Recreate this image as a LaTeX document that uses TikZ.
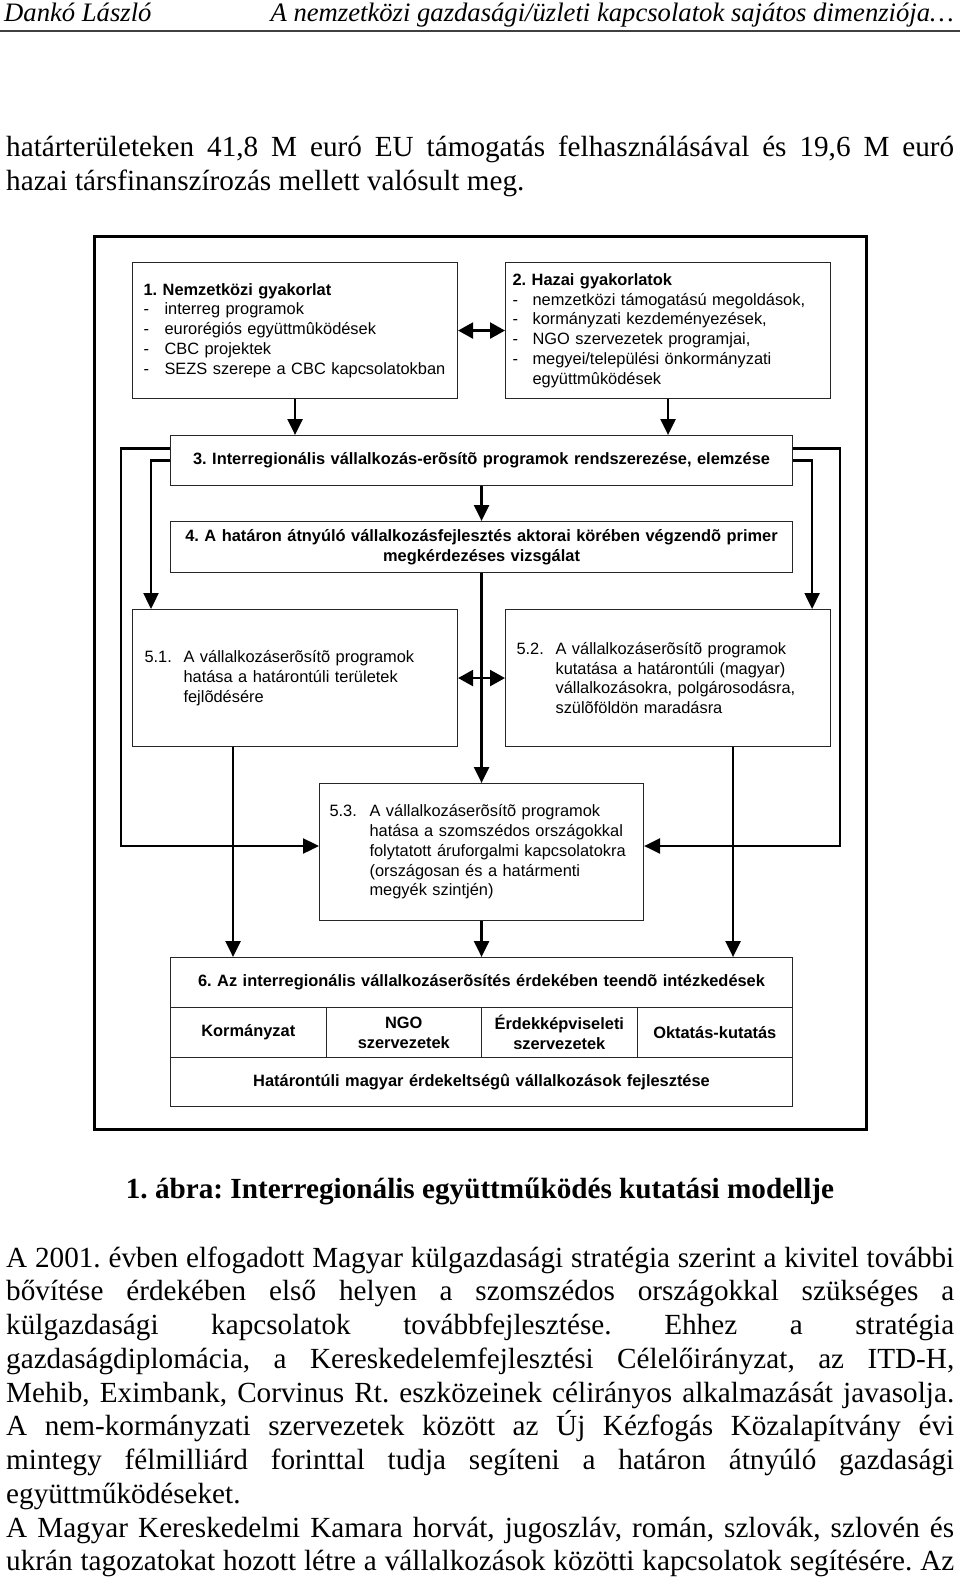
\documentclass[tikz,border=0pt]{standalone}
\usepackage{fontspec}
\setmainfont{Liberation Serif}
\newfontfamily\arial{Liberation Sans}
\usetikzlibrary{arrows.meta}
\frenchspacing
\begin{document}
\begin{tikzpicture}[x=1pt,y=-1pt,
  box/.style={draw=black!85, line width=1.1pt, rectangle, anchor=north west, inner ysep=0pt,
    font=\arial\fontsize{16.4}{19.8}\selectfont},
  bbox/.style={box, font=\arial\bfseries\fontsize{16.4}{19.8}\selectfont, align=center, inner xsep=0pt},
  conn/.style={line width=2.4pt, -{Triangle[length=16pt,width=15pt]}},
  dbl/.style={line width=2.4pt, {Triangle[length=15pt,width=16pt]}-{Triangle[length=15pt,width=16pt]}},
  body/.style={anchor=base west, inner sep=0pt, font=\frenchspacing\fontsize{29.2}{33.8}\selectfont},
  hdr/.style={inner sep=0pt, font=\itshape\fontsize{26.65}{30}\selectfont},
]
\useasboundingbox (0,0) rectangle (960,1578);

% header
\node[hdr, anchor=base west] (h1) at (4,22) {Dankó László};
\node[hdr, anchor=base east] (h2) at (954,22) {A nemzetközi gazdasági/üzleti kapcsolatok sajátos dimenziója…};
\draw[line width=2pt, black!75] (0,31.5) -- (960,31.5);

% top paragraph
\node[body] (p1) at (6,156.7) {\makebox[948pt][s]{határterületeken 41,8 M euró EU támogatás felhasználásával és 19,6 M euró}};
\node[body] (p2) at (6,190.5) {hazai társfinanszírozás mellett valósult meg.};

% frame
\draw[line width=3pt] (94,237) rectangle (866,1129);

% boxes
\node[box, minimum width=325pt, minimum height=136pt, text width=303pt, inner xsep=11pt, align=left] (b1) at (132,262)
 {{\bfseries 1. Nemzetközi gyakorlat}\\
  \makebox[21pt][l]{-}interreg programok\\
  \makebox[21pt][l]{-}eurorégiós együttmûködések\\
  \makebox[21pt][l]{-}CBC projektek\\
  \makebox[21pt][l]{-}SEZS szerepe a CBC kapcsolatokban};
\node[box, minimum width=325pt, minimum height=136pt, text width=311pt, inner xsep=7pt, align=left] (b2) at (505,262)
 {{\bfseries 2. Hazai gyakorlatok}\\
  \makebox[20pt][l]{-}nemzetközi támogatású megoldások,\\
  \makebox[20pt][l]{-}kormányzati kezdeményezések,\\
  \makebox[20pt][l]{-}NGO szervezetek programjai,\\
  \makebox[20pt][l]{-}megyei/települési önkormányzati\\
  \hspace*{20pt}együttmûködések};
\node[bbox, minimum width=622pt, minimum height=50pt, text width=622pt] (b3) at (170,435)
 {3. Interregionális vállalkozás-erõsítõ programok rendszerezése, elemzése};
\node[bbox, minimum width=622pt, minimum height=51pt, text width=622pt] (b4) at (170,521)
 {4. A határon átnyúló vállalkozásfejlesztés aktorai körében végzendõ primer\\megkérdezéses vizsgálat};
\node[box, minimum width=325pt, minimum height=137pt, text width=301pt, inner xsep=12pt, align=left] (b51) at (132,609)
 {\makebox[39pt][l]{5.1.}A vállalkozáserõsítõ programok\\
  \hspace*{39pt}hatása a határontúli területek\\
  \hspace*{39pt}fejlõdésére};
\node[box, minimum width=325pt, minimum height=137pt, text width=303pt, inner xsep=11pt, align=left] (b52) at (505,609)
 {\makebox[39pt][l]{5.2.}A vállalkozáserõsítõ programok\\
  \hspace*{39pt}kutatása a határontúli (magyar)\\
  \hspace*{39pt}vállalkozásokra, polgárosodásra,\\
  \hspace*{39pt}szülõföldön maradásra};
\node[box, minimum width=324pt, minimum height=137pt, text width=304pt, inner xsep=10pt, align=left] (b53) at (319,783)
 {\makebox[40pt][l]{5.3.}A vállalkozáserõsítõ programok\\
  \hspace*{40pt}hatása a szomszédos országokkal\\
  \hspace*{40pt}folytatott áruforgalmi kapcsolatokra\\
  \hspace*{40pt}(országosan és a határmenti\\
  \hspace*{40pt}megyék szintjén)};

% box 6 (table)
\node[bbox, minimum width=622pt, minimum height=50pt, text width=622pt] (t6) at (170,957)
 {6. Az interregionális vállalkozáserõsítés érdekében teendõ intézkedések};
\node[bbox, minimum width=155.5pt, minimum height=50pt, text width=155.5pt] (c1) at (170,1007) {Kormányzat};
\node[bbox, minimum width=155.5pt, minimum height=50pt, text width=155.5pt] (c2) at (325.5,1007) {NGO\\szervezetek};
\node[bbox, minimum width=155.5pt, minimum height=50pt, text width=155.5pt] (c3) at (481,1007) {Érdekképviseleti\\szervezetek};
\node[bbox, minimum width=155.5pt, minimum height=50pt, text width=155.5pt] (c4) at (636.5,1007) {Oktatás-kutatás};
\node[bbox, minimum width=622pt, minimum height=49pt, text width=622pt] (t6b) at (170,1057)
 {Határontúli magyar érdekeltségû vállalkozások fejlesztése};

% connectors
\coordinate (cL) at (121,846);
\coordinate (cR) at (840,846);
\draw[dbl] (b1.east) -- (b2.west);
\draw[conn] (b1.south) -- (b1.south |- b3.north);
\draw[conn] (b2.south) -- (b2.south |- b3.north);
\draw[conn] (b3.south) -- (b4.north);
\draw[conn] ([yshift=12pt]b3.west) -| (cL) -- (cL -| b53.west);
\draw[conn] ([yshift=12pt]b3.east) -| (cR) -- (cR -| b53.east);
\draw[conn] (b3.west) -| ([xshift=19pt]b51.north west);
\draw[conn] (b3.east) -| ([xshift=-19pt]b52.north east);
\draw[conn] (b4.south) -- (b53.north);
\draw[dbl] (b51.east) -- (b52.west);
\draw[conn] ([xshift=-62pt]b51.south) -- ([xshift=-62pt]b51.south |- t6.north);
\draw[conn] ([xshift=65pt]b52.south) -- ([xshift=65pt]b52.south |- t6.north);
\draw[conn] (b53.south) -- (t6.north);

% caption
\node[anchor=base, inner sep=0pt, font=\bfseries\fontsize{29.2}{33.8}\selectfont] (cap) at (480,1198)
 {1. ábra: Interregionális együttműködés kutatási modellje};

% bottom paragraph
\node[body] (q1) at (6,1267.0) {\makebox[948pt][s]{A 2001. évben elfogadott Magyar külgazdasági stratégia szerint a kivitel további}};
\node[body] (q2) at (6,1300.8) {\makebox[948pt][s]{bővítése érdekében első helyen a szomszédos országokkal szükséges a}};
\node[body] (q3) at (6,1334.5) {\makebox[948pt][s]{külgazdasági kapcsolatok továbbfejlesztése. Ehhez a stratégia}};
\node[body] (q4) at (6,1368.3) {\makebox[948pt][s]{gazdaságdiplomácia, a Kereskedelemfejlesztési Célelőirányzat, az ITD-H,}};
\node[body] (q5) at (6,1402.0) {\makebox[948pt][s]{Mehib, Eximbank, Corvinus Rt. eszközeinek célirányos alkalmazását javasolja.}};
\node[body] (q6) at (6,1435.8) {\makebox[948pt][s]{A nem-kormányzati szervezetek között az Új Kézfogás Közalapítvány évi}};
\node[body] (q7) at (6,1469.6) {\makebox[948pt][s]{mintegy félmilliárd forinttal tudja segíteni a határon átnyúló gazdasági}};
\node[body] (q8) at (6,1503.3) {együttműködéseket.};
\node[body] (q9) at (6,1537.1) {\makebox[948pt][s]{A Magyar Kereskedelmi Kamara horvát, jugoszláv, román, szlovák, szlovén és}};
\node[body] (q10) at (6,1570.8) {\makebox[948pt][s]{ukrán tagozatokat hozott létre a vállalkozások közötti kapcsolatok segítésére. Az}};
\end{tikzpicture}
\end{document}
